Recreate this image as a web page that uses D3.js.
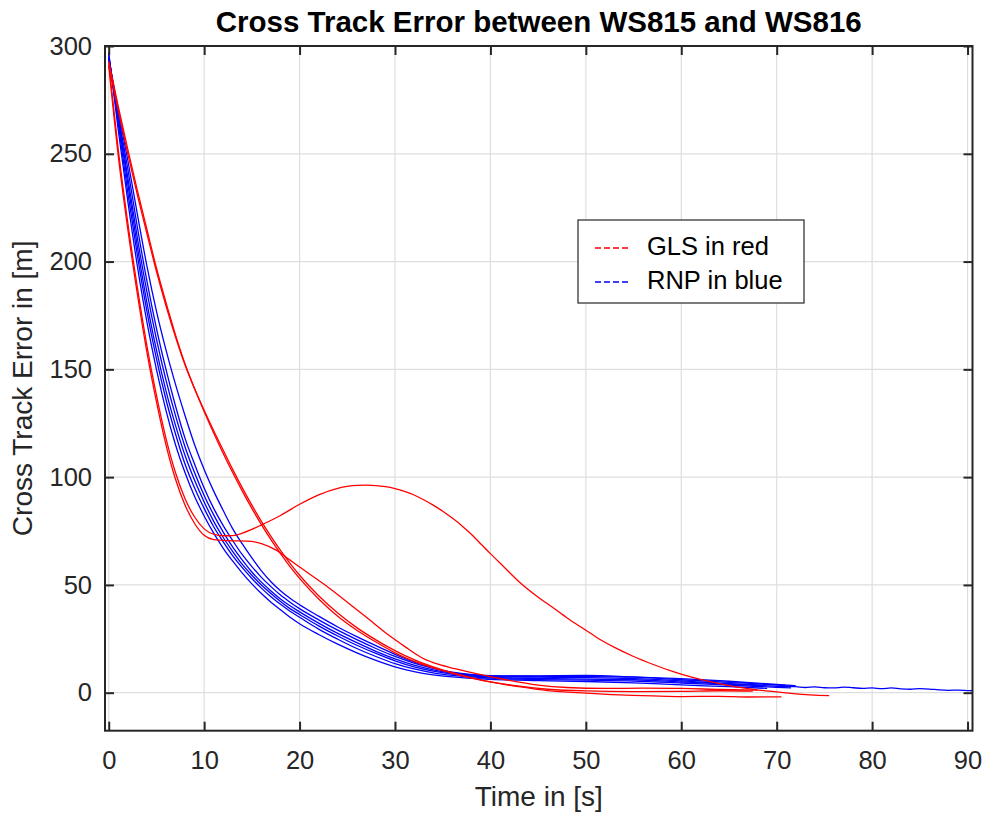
<!DOCTYPE html>
<html>
<head>
<meta charset="utf-8">
<script src="https://cdn.jsdelivr.net/npm/d3@7"></script>
<style>
  body { margin: 0; background: #fff; }
  text { font-family: 'Liberation Sans', Arial, sans-serif; }
</style>
</head>
<body>
<svg id="chart" width="984" height="813"></svg>
<script>
// ticks
const xTicks = [0, 10, 20, 30, 40, 50, 60, 70, 80, 90];
const yTicks = [0, 50, 100, 150, 200, 250, 300];

// GLS runs (red), [time s, cross track error m]
const gls1 = [[0,292],[1,252],[2,218],[3,188],[4,161],[5,138],[6,118],[7,102],[8,90],[9,81.5],[10,76],[11,73.5],[12,72.8],[13,72.9],[14,74],[15,75.8],[16,77.8],[18,82.2],[20,87.4],[22,91.8],[24,94.8],[25,95.7],[26,96.2],[27,96.3],[28,96.1],[29,95.6],[30,94.7],[31,93.4],[32,91.7],[33,89.5],[34,87],[35,84.2],[36,81],[37,77.5],[38,73.5],[39,69],[40,64.5],[41.5,58],[43,51.5],[44.8,45],[46.5,39.6],[48,34.8],[50,29],[51.4,24.9],[53,21],[55,16.8],[57,13.2],[59,10],[61,7.3],[63,5.1],[65,3.3],[67,1.9],[69.5,0.6],[72,-0.5],[75.5,-1.4]];
const gls2 = [[0,291],[1,249],[2,215],[3,185],[4,158],[5,135],[6,115],[7,99],[8,87],[9,78.5],[10,73],[11,71],[12.5,70.5],[14.5,70.3],[16,69.2],[17.6,66],[19,61.5],[20,58.3],[22.5,50.5],[25,42],[27,35],[29.4,26.5],[31,21.5],[32.9,16],[34.5,13.2],[36.4,11],[38.5,8.8],[41.6,6],[45,3.5],[48,2.4],[52,2],[56,2.1],[60,2],[64,1.5],[68,1.2]];
const gls3 = [[0,293],[1,272],[2,252],[3,233],[4,215],[5,197],[6,181],[7,166],[8,152.5],[9,141],[10,130.5],[11,120.5],[12,111],[13,102],[14,93.5],[15,85.5],[16,78],[17,71],[18,64.5],[19,58.5],[20,53],[22,43.5],[24,35.5],[26,29],[28,23.5],[30,18.5],[32,14.5],[34,11.5],[36,9],[38,6.8],[40,5],[43,3],[46,1.6],[50,0.8],[55,0.5],[60,0.6],[64,0.9],[67.5,0.7]];
const gls4 = [[0,291],[1,270],[2,250],[3,231],[4,213],[5,195.5],[6,179.5],[7,165],[8,152],[9,141],[10,131],[11,121.5],[12,112.5],[13,103.5],[14,95],[15,87],[16,79.5],[17,72.5],[18,66],[19,60],[20,54.5],[22,45],[24,37],[26,30.2],[28,24.5],[30,19.5],[32,15.3],[34,12],[36,9.3],[38,7],[40,5],[43,2.8],[46,1],[50,-0.2],[53.5,-1],[57,-1.5],[60,-1.8],[64,-1.7],[67,-2],[70.5,-1.9]];

// RNP runs (blue)
const rnp1 = [[0,297],[1,261],[2,228],[3,198],[4,172],[5,150],[6,131],[7,115],[8,102],[9,91],[10,82],[11,74],[12,67],[13,61],[14,55.5],[15,50.5],[16,46],[17,42],[18,38.5],[19,35],[20,32],[22,27],[24,22.5],[26,18.5],[28,15],[30,12],[32,9.8],[34,8.3],[36,7.3],[40,6.2],[45,5.6],[50,5.2],[55,4.6],[60,3.6],[65,2.8],[69,2]];
const rnp2 = [[0,296],[1,264],[2,232],[3,203],[4,177],[5,155],[6,136],[7,120],[8,106],[9,95],[10,85.5],[11,77],[12,70],[13,63.5],[14,58],[15,53],[16,48.5],[17,44.5],[18,41],[19,37.8],[20,35],[22,29.5],[24,24.8],[26,20.5],[28,16.8],[30,13.5],[32,11],[34,9.2],[36,8],[40,6.8],[45,6.1],[50,5.8],[55,5.4],[60,4.5],[65,3.5],[70,2.5],[71.5,2.2]];
const rnp3 = [[0,295],[1,266],[2,236],[3,207],[4,181],[5,159],[6,140],[7,124],[8,110],[9,98.5],[10,88.5],[11,79.5],[12,72],[13,65.5],[14,59.5],[15,54.5],[16,50],[17,46],[18,42.3],[19,39],[20,36.3],[22,31],[24,26.3],[26,22],[28,18.2],[30,14.8],[32,12],[34,10],[36,8.6],[40,7.2],[45,6.6],[50,6.3],[55,6],[60,5],[65,4],[70,3],[72,2.8],[73,2.4],[74,2.7],[75,2.3],[76,2.2],[77,2.6],[78,2.3],[79,2],[80,2.2],[81,1.9],[82,2.2],[83,1.8],[84,1.6],[85,1.9],[86,1.7],[87,1.3],[88,1.1],[89,1.2],[90,1],[90.5,0.9]];
const rnp4 = [[0,294],[1,267],[2,239],[3,211],[4,186],[5,164],[6,145],[7,128.5],[8,114],[9,102],[10,91.5],[11,82.5],[12,74.5],[13,67.5],[14,61.5],[15,56],[16,51.3],[17,47.2],[18,43.5],[19,40.3],[20,37.5],[22,32.3],[24,27.5],[26,23.2],[28,19.2],[30,15.7],[32,12.8],[34,10.6],[36,9],[40,7.4],[45,7.2],[50,7],[55,6.5],[60,5.5],[65,4.2],[68.8,3.5]];
const rnp5 = [[0,295],[1,268],[2,243],[3,216],[4,191],[5,169],[6,150],[7,133],[8,118],[9,106],[10,95],[11,85.5],[12,77.5],[13,70.5],[14,64],[15,58.5],[16,53.5],[17,49.2],[18,45.3],[19,42],[20,39],[22,33.8],[24,29],[26,24.6],[28,20.5],[30,16.8],[32,13.7],[34,11.3],[36,9.5],[40,7.9],[45,7.6],[50,7.5],[55,7.2],[60,6],[65,4.8],[70,3.6],[71,3.3]];
const rnp6 = [[0,294],[1,270],[2,247],[3,222],[4,198],[5,177],[6,159],[7,143],[8,128.5],[9,115],[10,103.5],[11,93.5],[12,84.5],[13,76],[14,69],[15,62.5],[16,56.5],[17,51.5],[18,47.3],[19,43.8],[20,40.8],[22,35.5],[24,30.5],[26,26],[28,21.8],[30,17.8],[32,14.3],[34,11.5],[36,9.3],[38,8.2],[40,7.7],[45,7.8],[50,8],[55,7.3],[60,6.5],[65,5.3],[70,3.8],[72,3.2]];

const series = [
  { color: '#0000ff', pts: rnp1 }, { color: '#0000ff', pts: rnp2 },
  { color: '#0000ff', pts: rnp3 }, { color: '#0000ff', pts: rnp4 },
  { color: '#0000ff', pts: rnp5 }, { color: '#0000ff', pts: rnp6 },
  { color: '#ff0000', pts: gls1 }, { color: '#ff0000', pts: gls2 },
  { color: '#ff0000', pts: gls3 }, { color: '#ff0000', pts: gls4 }
];

const legendItems = [
  { label: 'GLS in red', color: '#ff0000' },
  { label: 'RNP in blue', color: '#0000ff' }
];

const plot = { left: 105, right: 972.5, top: 46, bottom: 730.7 };
const axisColor = '#262626';

const svg = d3.select('#chart');

const x = d3.scaleLinear().domain([-0.39, 90.52]).range([plot.left, plot.right]);
const y = d3.scaleLinear().domain([-17.63, 300]).range([plot.bottom, plot.top]);

// grid
const grid = svg.append('g').attr('class', 'grid');
grid.selectAll('line.gx').data(xTicks).enter().append('line')
  .attr('x1', d => x(d)).attr('x2', d => x(d))
  .attr('y1', plot.top).attr('y2', plot.bottom)
  .attr('stroke', '#dedede').attr('stroke-width', 1.2);
grid.selectAll('line.gy').data(yTicks).enter().append('line')
  .attr('x1', plot.left).attr('x2', plot.right)
  .attr('y1', d => y(d)).attr('y2', d => y(d))
  .attr('stroke', '#dedede').attr('stroke-width', 1.2);

// lines
svg.append('clipPath').attr('id', 'clip').append('rect')
  .attr('x', plot.left).attr('y', plot.top)
  .attr('width', plot.right - plot.left).attr('height', plot.bottom - plot.top);

const line = d3.line()
  .x(d => x(d[0]))
  .y(d => y(d[1]))
  .curve(d3.curveMonotoneX);

svg.append('g').attr('clip-path', 'url(#clip)')
  .selectAll('path').data(series).enter().append('path')
  .attr('d', d => line(d.pts))
  .attr('fill', 'none')
  .attr('stroke', d => d.color)
  .attr('stroke-width', 1.3)
  .attr('stroke-linejoin', 'round');

// axes (inward ticks on all four sides)
const tickLen = 9;
const bottomAxis = d3.axisBottom(x).tickValues(xTicks).tickSizeInner(-tickLen).tickSizeOuter(0).tickPadding(20);
const topAxis = d3.axisTop(x).tickValues(xTicks).tickSizeInner(-tickLen).tickSizeOuter(0).tickFormat('');
const leftAxis = d3.axisLeft(y).tickValues(yTicks).tickSizeInner(-tickLen).tickSizeOuter(0).tickPadding(13);
const rightAxis = d3.axisRight(y).tickValues(yTicks).tickSizeInner(-tickLen).tickSizeOuter(0).tickFormat('');

const styleAxis = (g) => {
  g.select('.domain').remove();
  g.selectAll('.tick line').attr('stroke', axisColor).attr('stroke-width', 2);
  g.selectAll('.tick text')
    .attr('fill', axisColor)
    .style('font-size', '25.5px')
    .style('font-family', "'Liberation Sans', Arial, sans-serif");
};

svg.append('g').attr('transform', 'translate(0,' + plot.bottom + ')').call(bottomAxis).call(styleAxis);
svg.append('g').attr('transform', 'translate(0,' + plot.top + ')').call(topAxis).call(styleAxis);
svg.append('g').attr('transform', 'translate(' + plot.left + ',0)').call(leftAxis).call(styleAxis);
svg.append('g').attr('transform', 'translate(' + plot.right + ',0)').call(rightAxis).call(styleAxis);

svg.append('rect')
  .attr('x', plot.left).attr('y', plot.top)
  .attr('width', plot.right - plot.left).attr('height', plot.bottom - plot.top)
  .attr('fill', 'none').attr('stroke', axisColor).attr('stroke-width', 2);

// title & labels
svg.append('text')
  .attr('x', (plot.left + plot.right) / 2).attr('y', 32)
  .attr('text-anchor', 'middle')
  .style('font-size', '29.5px').style('font-weight', 'bold')
  .attr('fill', '#000')
  .text('Cross Track Error between WS815 and WS816');

svg.append('text')
  .attr('x', (plot.left + plot.right) / 2).attr('y', 806)
  .attr('text-anchor', 'middle')
  .style('font-size', '28px')
  .attr('fill', axisColor)
  .text('Time in [s]');

svg.append('text')
  .attr('transform', 'translate(32,' + (plot.top + plot.bottom) / 2 + ') rotate(-90)')
  .attr('text-anchor', 'middle')
  .style('font-size', '28px')
  .attr('fill', axisColor)
  .text('Cross Track Error in [m]');

// legend
const legend = svg.append('g').attr('transform', 'translate(578,220)');
legend.append('rect')
  .attr('width', 226).attr('height', 83)
  .attr('fill', '#fff').attr('stroke', axisColor).attr('stroke-width', 1.2);
const item = legend.selectAll('g.item').data(legendItems).enter().append('g')
  .attr('class', 'item')
  .attr('transform', (d, i) => 'translate(0,' + (28 + i * 34) + ')');
item.append('line')
  .attr('x1', 17).attr('x2', 50)
  .attr('stroke', d => d.color).attr('stroke-width', 1.5)
  .attr('stroke-dasharray', '6,3');
item.append('text')
  .attr('x', 69).attr('y', 7)
  .style('font-size', '25.5px')
  .attr('fill', '#000')
  .text(d => d.label);
</script>
</body>
</html>
